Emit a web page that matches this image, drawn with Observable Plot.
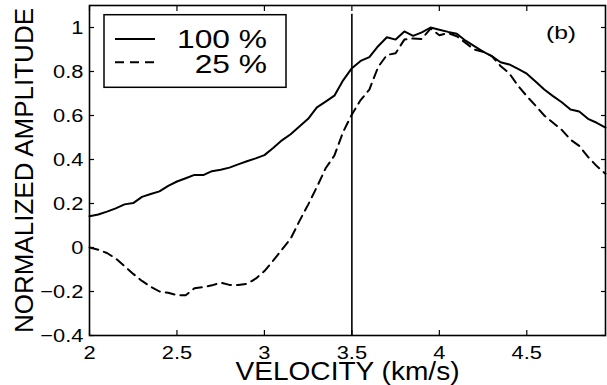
<!DOCTYPE html>
<html>
<head>
<meta charset="utf-8">
<script src="https://cdn.jsdelivr.net/npm/d3@7"></script>
<script src="https://cdn.jsdelivr.net/npm/@observablehq/plot@0.6"></script>
<style>
  html, body { margin: 0; padding: 0; background: #fff; }
  #chart { position: relative; width: 607px; height: 385px; }
</style>
</head>
<body>
<div id="chart"></div>
<script>
// ---- data ----
const velocity = [2.00,2.05,2.10,2.15,2.20,2.25,2.30,2.35,2.40,2.45,2.50,2.55,2.60,2.65,2.70,2.75,2.80,2.85,2.90,2.95,
  3.00,3.05,3.10,3.15,3.20,3.25,3.30,3.35,3.40,3.45,3.50,3.55,3.60,3.65,3.70,3.75,3.80,3.85,3.90,3.95,
  4.00,4.05,4.10,4.15,4.20,4.25,4.30,4.35,4.40,4.45,4.50,4.55,4.60,4.65,4.70,4.75,4.80,4.85,4.90,4.95];
const amp100 = [0.142,0.150,0.163,0.178,0.196,0.202,0.230,0.243,0.255,0.280,0.300,0.315,0.330,0.329,0.347,0.353,0.363,0.378,0.392,0.405,
  0.420,0.452,0.487,0.515,0.550,0.585,0.637,0.663,0.690,0.760,0.815,0.848,0.865,0.915,0.956,0.945,0.982,0.962,0.978,1.000,
  0.990,0.980,0.972,0.940,0.915,0.890,0.870,0.842,0.832,0.812,0.790,0.755,0.718,0.688,0.660,0.627,0.618,0.585,0.567,0.545];
const amp25 = [0.000,-0.010,-0.025,-0.050,-0.085,-0.120,-0.152,-0.178,-0.200,-0.206,-0.217,-0.217,-0.185,-0.180,-0.172,-0.160,-0.170,-0.170,-0.165,-0.142,
  -0.107,-0.060,-0.010,0.040,0.120,0.195,0.275,0.360,0.418,0.525,0.605,0.670,0.718,0.820,0.875,0.883,0.945,0.950,0.948,0.995,
  0.965,0.975,0.960,0.930,0.900,0.890,0.870,0.825,0.792,0.735,0.688,0.645,0.600,0.567,0.535,0.490,0.462,0.412,0.370,0.335];
const seriesNames = ["100 %", "25 %"];
const xTicks = [2, 2.5, 3, 3.5, 4, 4.5];
const yTicks = [-0.4, -0.2, 0, 0.2, 0.4, 0.6, 0.8, 1];
const markerX = [3.5];
const markerY = [-0.4, 1.06];
const xDomain = [2, 4.95];
const yDomain = [-0.4, 1.1];
const xTitle = "VELOCITY (km/s)";
const yTitle = "NORMALIZED AMPLITUDE";
const panelLabel = "(b)";

const rows100 = velocity.map((v, i) => ({v, a: amp100[i]}));
const rows25 = velocity.map((v, i) => ({v, a: amp25[i]}));
const fmt = d => String(d).replace("-", "\u2212");
const FONT = "'Liberation Sans', Arial, Helvetica, sans-serif";

const svg = Plot.plot({
  width: 607, height: 385,
  marginLeft: 89, marginRight: 2, marginTop: 5, marginBottom: 50,
  style: {fontFamily: FONT, color: "#000", background: "#fff", overflow: "visible"},
  x: {domain: xDomain},
  y: {domain: yDomain},
  marks: [
    Plot.axisX({anchor: "bottom", ticks: xTicks, tickFormat: fmt, tickSize: 5, dy: -5, tickPadding: 10, fontSize: 19, label: null, strokeWidth: 1.2}),
    Plot.axisX({anchor: "top", ticks: xTicks, tickFormat: () => "", tickSize: 5, dy: 5, label: null, strokeWidth: 1.2}),
    Plot.axisY({anchor: "left", ticks: yTicks, tickFormat: fmt, tickSize: 5, dx: 5, tickPadding: 6, fontSize: 19, label: null, strokeWidth: 1.2}),
    Plot.axisY({anchor: "right", ticks: yTicks, tickFormat: () => "", tickSize: 5, dx: -5, label: null, strokeWidth: 1.2}),
    Plot.ruleX(markerX, {y1: markerY[0], y2: markerY[1], stroke: "#000", strokeWidth: 1.6}),
    Plot.line(rows100, {x: "v", y: "a", stroke: "#000", strokeWidth: 2}),
    Plot.line(rows25, {x: "v", y: "a", stroke: "#000", strokeWidth: 2, strokeDasharray: "9,6"}),
    Plot.frame({stroke: "#000", strokeWidth: 1.6}),
    Plot.text([xTitle], {text: d => d, frameAnchor: "bottom", dy: 36, fontSize: 26, lineAnchor: "middle", textAnchor: "middle", fill: "#000"}),
    Plot.text([yTitle], {text: d => d, frameAnchor: "left", rotate: -90, dx: -65, fontSize: 26, lineAnchor: "middle", textAnchor: "middle", fill: "#000"})
  ]
});
document.getElementById("chart").appendChild(svg);

// horizontal stretch of tick labels / title to match the reference's wide lettering
function stretch(sel, s) {
  svg.querySelectorAll(sel).forEach(t => {
    const tr = t.getAttribute("transform") || "";
    t.setAttribute("transform", tr + ` scale(${s},1)`);
  });
}
stretch('g[aria-label="x-axis tick label"] text', 1.15);
stretch('g[aria-label="y-axis tick label"] text', 1.15);
svg.querySelectorAll('g[aria-label="text"] text').forEach(t => {
  if (t.textContent === xTitle) t.setAttribute("transform", (t.getAttribute("transform") || "") + " scale(1.08,1)");
});

// legend + panel label overlay
const g = d3.select(svg).append("g").attr("font-family", FONT).attr("fill", "#000");
g.append("rect").attr("x", 104).attr("y", 14.7).attr("width", 182).attr("height", 72.6)
  .attr("fill", "#fff").attr("stroke", "#000").attr("stroke-width", 1.5);
g.append("line").attr("x1", 115).attr("x2", 155).attr("y1", 39).attr("y2", 39)
  .attr("stroke", "#000").attr("stroke-width", 2);
g.append("line").attr("x1", 115).attr("x2", 155).attr("y1", 62.3).attr("y2", 62.3)
  .attr("stroke", "#000").attr("stroke-width", 2).attr("stroke-dasharray", "9,6");
g.append("text").text(seriesNames[0]).attr("text-anchor", "end").attr("font-size", 25)
  .attr("transform", "translate(267,47.7) scale(1.27,1)");
g.append("text").text(seriesNames[1]).attr("text-anchor", "end").attr("font-size", 25)
  .attr("transform", "translate(267,72.7) scale(1.27,1)");
g.append("text").text(panelLabel).attr("text-anchor", "middle").attr("font-size", 19)
  .attr("transform", "translate(561,39) scale(1.3,1)");
</script>
</body>
</html>
